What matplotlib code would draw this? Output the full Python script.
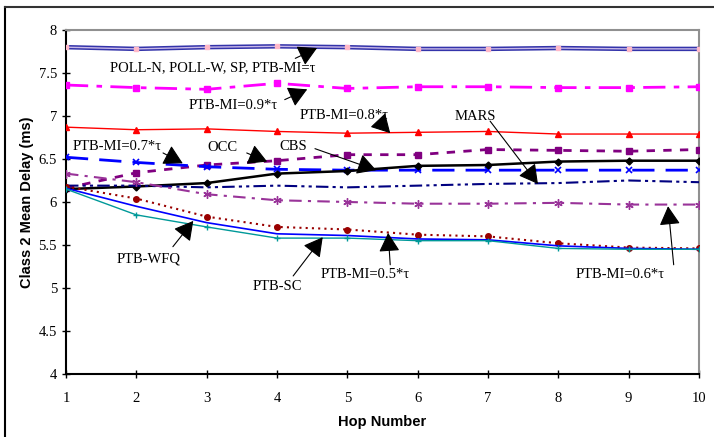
import numpy as np
import matplotlib
matplotlib.use('Agg')
import matplotlib.pyplot as plt
from matplotlib.lines import Line2D

hops = [1, 2, 3, 4, 5, 6, 7, 8, 9, 10]

poll = [7.80, 7.78, 7.80, 7.81, 7.80, 7.78, 7.78, 7.79, 7.78, 7.78]
mi_09 = [7.36, 7.33, 7.31, 7.38, 7.32, 7.34, 7.34, 7.33, 7.33, 7.34]
mi_08 = [6.87, 6.84, 6.85, 6.82, 6.80, 6.81, 6.82, 6.79, 6.79, 6.79]
occ = [6.16, 6.34, 6.43, 6.48, 6.55, 6.55, 6.61, 6.60, 6.59, 6.61]
mi_07 = [6.52, 6.46, 6.41, 6.38, 6.37, 6.37, 6.37, 6.37, 6.37, 6.37]
cbs = [6.15, 6.18, 6.22, 6.33, 6.36, 6.42, 6.43, 6.47, 6.48, 6.48]
mars = [6.19, 6.19, 6.17, 6.19, 6.17, 6.19, 6.21, 6.22, 6.25, 6.23]
mi_06 = [6.33, 6.23, 6.09, 6.02, 6.00, 5.98, 5.98, 5.99, 5.97, 5.97]
mi_05 = [6.18, 6.04, 5.83, 5.71, 5.68, 5.62, 5.60, 5.52, 5.47, 5.46]
wfq = [6.16, 5.95, 5.76, 5.63, 5.61, 5.57, 5.56, 5.49, 5.46, 5.45]
sc = [6.15, 5.85, 5.71, 5.58, 5.58, 5.55, 5.55, 5.46, 5.45, 5.45]

serif = ['Liberation Serif', 'DejaVu Serif']
sans = ['Liberation Sans', 'DejaVu Sans']

fig = plt.figure(figsize=(7.14, 4.37), dpi=100)
ax = fig.add_axes([0.0924, 0.1442, 0.8866, 0.7872])

# outer frame of the page figure
fig.add_artist(Line2D([0.007, 0.007], [0, 0.984], color='black', lw=1.5, transform=fig.transFigure))
fig.add_artist(Line2D([0.007, 1.0], [0.984, 0.984], color='#333333', lw=1.5, transform=fig.transFigure))

ax.plot(hops, poll, color='#3333AA', lw=3.2, zorder=3)
ax.plot(hops, poll, color='#C8B8E8', lw=1.0, marker='s', ms=3, mfc='#FFB8C8', mec='#FFB8C8', zorder=4)
ax.plot(hops, mi_09, color='#FF00FF', lw=2, dashes=(8, 3, 2, 3), marker='s', ms=4, zorder=3)
ax.plot(hops, mi_08, color='#FF0000', lw=1, marker='^', ms=5, zorder=3)
ax.plot(hops, occ, color='#800080', lw=2, dashes=(3, 3), marker='s', ms=5, zorder=3)
ax.plot(hops, mi_07, color='#0000FF', lw=2, dashes=(8, 4), marker='x', ms=5, mew=1.2, zorder=3)
ax.plot(hops, cbs, color='black', lw=1.8, marker='D', ms=3.5, zorder=3)
ax.plot(hops, mars, color='#000080', lw=1.5, dashes=(6, 2, 1.5, 2, 1.5, 2), zorder=3)
ax.plot(hops, mi_06, color='#993399', lw=1.5, dashes=(6, 3, 1.5, 3), marker=(6, 2, 0), ms=6, zorder=3)
ax.plot(hops, mi_05, color='#990000', lw=1.5, dashes=(1, 2), marker='o', ms=4, zorder=3)
ax.plot(hops, wfq, color='#0000FF', lw=1.2, zorder=3)
ax.plot(hops, sc, color='#009999', lw=1, marker='+', ms=5, mew=1, zorder=3)

ax.set_xlim(1, 10)
ax.set_ylim(4, 8)
ax.set_xticks(hops)
ax.set_yticks([4, 4.5, 5, 5.5, 6, 6.5, 7, 7.5, 8])
ax.set_yticklabels(['4', '4.5', '5', '5.5', '6', '6.5', '7', '7.5', '8'])
ax.tick_params(direction='inout', length=6, width=1, labelsize=10.5)
ax.tick_params(axis='x', pad=10)
ax.tick_params(axis='y', pad=3.5)
for lab in ax.get_xticklabels() + ax.get_yticklabels():
    lab.set_fontfamily(serif)

ax.spines['top'].set_color('#909090')
ax.spines['right'].set_color('#909090')
for s in ['top', 'right', 'left', 'bottom']:
    ax.spines[s].set_linewidth(1.5)

ax.set_xlabel('Hop Number', fontsize=10.5, fontweight='bold', family=sans, labelpad=7.5)
ax.set_ylabel('Class 2 Mean Delay (ms)', fontsize=10.5, fontweight='bold', family=sans, labelpad=3)

arrow = dict(arrowstyle='-|>,head_length=0.45,head_width=0.25', mutation_scale=26,
             lw=0.8, color='black', shrinkA=0, shrinkB=0)
notes = [
    ('POLL-N, POLL-W, SP, PTB-MI=\u03c4', (3.09, 7.56), (4.26, 7.67), (4.57, 7.79)),
    ('PTB-MI=0.9*\u03c4', (3.37, 7.12), (4.11, 7.19), (4.43, 7.31)),
    ('PTB-MI=0.8*\u03c4', (4.95, 7.01), (5.46, 6.93), (5.61, 6.80)),
    ('MARS', (6.82, 6.99), (7.03, 6.94), (7.71, 6.21)),
    ('PTB-MI=0.7*\u03c4', (1.73, 6.65), (2.38, 6.57), (2.66, 6.45)),
    ('OCC', (3.23, 6.63), (3.57, 6.57), (3.86, 6.47)),
    ('CBS', (4.23, 6.65), (4.54, 6.62), (5.41, 6.37)),
    ('PTB-WFQ', (2.17, 5.34), (2.52, 5.48), (2.81, 5.78)),
    ('PTB-SC', (4.01, 5.02), (4.23, 5.14), (4.65, 5.59)),
    ('PTB-MI=0.5*\u03c4', (5.25, 5.16), (5.61, 5.27), (5.58, 5.64)),
    ('PTB-MI=0.6*\u03c4', (8.88, 5.16), (9.64, 5.27), (9.56, 5.95)),
]
for text, pos, tail, head in notes:
    ax.text(pos[0], pos[1], text, ha='center', va='center', fontsize=10.5, family=serif, zorder=6)
    ax.annotate('', xy=head, xytext=tail, arrowprops=arrow, zorder=6)

fig.savefig('out.png', dpi=100)
